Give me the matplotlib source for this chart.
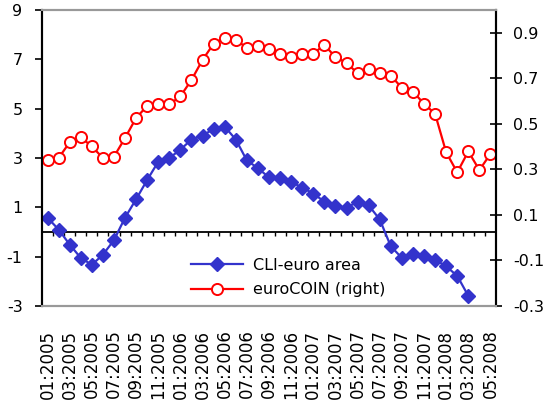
import numpy as np
import matplotlib
matplotlib.use("Agg")
import matplotlib.pyplot as plt

# ---- data ----
months = [f"{m:02d}:{y}" for y in (2005, 2006, 2007, 2008) for m in range(1, 13)][:41]
cli = [0.58, 0.10, -0.51, -1.05, -1.33, -0.92, -0.33, 0.58, 1.33, 2.11,
       2.85, 3.00, 3.34, 3.75, 3.91, 4.18, 4.27, 3.75, 2.90, 2.59,
       2.21, 2.20, 2.03, 1.80, 1.56, 1.23, 1.05, 0.98, 1.23, 1.08,
       0.51, -0.58, -1.05, -0.89, -0.99, -1.12, -1.39, -1.78, -2.59]
eurocoin = [0.341, 0.350, 0.419, 0.441, 0.401, 0.350, 0.356, 0.438, 0.526, 0.579,
            0.588, 0.585, 0.621, 0.693, 0.781, 0.852, 0.878, 0.869, 0.834, 0.844,
            0.828, 0.808, 0.793, 0.808, 0.808, 0.847, 0.793, 0.768, 0.722, 0.739,
            0.722, 0.712, 0.658, 0.642, 0.588, 0.544, 0.375, 0.287, 0.379, 0.297,
            0.368]
left_ticks = [-3, -1, 1, 3, 5, 7, 9]
right_ticks = [-0.3, -0.1, 0.1, 0.3, 0.5, 0.7, 0.9]
label_step = 2

blue = "#3333cc"
red = "#ff0000"

plt.rcParams['font.family'] = ['DejaVu Sans']

fig = plt.figure(figsize=(5.48, 4.01), dpi=100)
ax = fig.add_axes([42/548, 1-306/401, 454/548, 296/401])
ax2 = ax.twinx()

x_cli = np.arange(len(cli))
x_coin = np.arange(len(eurocoin))

l1, = ax.plot(x_cli, cli, color=blue, lw=1.6, marker='D', markersize=7,
              markerfacecolor=blue, markeredgecolor=blue, label='CLI-euro area')
l2, = ax2.plot(x_coin, eurocoin, color=red, lw=1.6, marker='o', markersize=8,
               markerfacecolor='white', markeredgecolor=red, markeredgewidth=1.4,
               label='euroCOIN (right)')

ax.set_xlim(-0.5, len(months) - 0.5)
ax.set_ylim(-3, 9)
ax2.set_ylim(-0.3, 1.0)

# zero line with category separator ticks
ax.axhline(0, color='black', lw=1.3, zorder=1)
sep = np.arange(len(months) - 1) + 0.5
ax.vlines(sep, -0.16, 0, color='black', lw=1.0, zorder=1)

ax.set_yticks(left_ticks)
ax.set_yticklabels([str(v) for v in left_ticks])
ax2.set_yticks(right_ticks)
ax2.set_yticklabels([f"{v:.1f}" for v in right_ticks])

ax.set_xticks(np.arange(0, len(months), label_step))
ax.set_xticklabels(months[::label_step], rotation=90, fontsize=12)
ax.tick_params(axis='x', length=0, pad=17)
ax.tick_params(axis='y', direction='out', length=5, width=1.2, pad=9, labelsize=11.5)
ax2.tick_params(axis='y', direction='inout', length=9, width=1.2, pad=8, labelsize=11.5)

for a in (ax, ax2):
    a.spines['top'].set_color('#999999')
    a.spines['bottom'].set_color('#999999')
    a.spines['top'].set_linewidth(1.5)
    a.spines['bottom'].set_linewidth(1.5)
    a.spines['left'].set_color('black')
    a.spines['right'].set_color('black')
    a.spines['left'].set_linewidth(1.5)
    a.spines['right'].set_linewidth(1.5)

leg = ax2.legend(handles=[l1, l2], loc='upper left', bbox_to_anchor=(0.31, 0.19),
                 frameon=False, fontsize=11.5, handlelength=3.3, handletextpad=0.6,
                 borderpad=0, labelspacing=0.6)

fig.savefig("out.png", dpi=100)
